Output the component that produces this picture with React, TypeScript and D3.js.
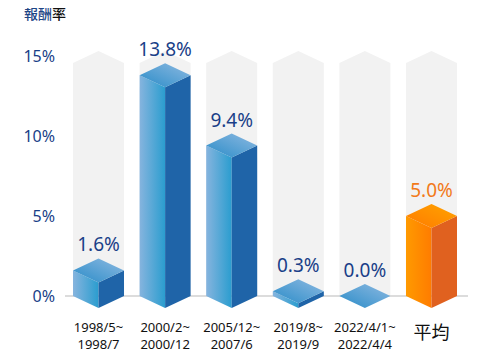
import * as d3 from 'd3';

// chart data
const periods = [
  ['1998/5~', '1998/7'],
  ['2000/2~', '2000/12'],
  ['2005/12~', '2007/6'],
  ['2019/8~', '2019/9'],
  ['2022/4/1~', '2022/4/4'],
  ['平均'],
];
const returns = [1.6, 13.8, 9.4, 0.3, 0.0, 5.0];
const yTicks = [0, 5, 10, 15];

const W = 500;
const H = 360;
const FONT = '"Noto Sans", "Noto Sans CJK TC", sans-serif';
const CJK = '"Noto Sans CJK TC", "Noto Sans", sans-serif';

export default function App() {
  const keys = periods.map((_, i) => String(i));
  const x = d3.scaleBand().domain(keys).range([73, 457]).paddingInner(0.234).paddingOuter(0);
  const y = d3.scaleLinear().domain([0, 15]).range([296, 56]);
  const bw = x.bandwidth();
  const d = 12; // depth of the isometric top

  const isAvg = (i: number) => i === periods.length - 1;

  return (
    <div style={{ margin: -8, width: W, height: H, overflow: 'hidden' }}>
      <svg width={W} height={H} style={{ display: 'block', background: '#fff' }}>
        <defs>
          <linearGradient id="bL" x1="0" x2="1" y1="0" y2="0">
            <stop offset="0" stopColor="#86b4de" />
            <stop offset="1" stopColor="#2a9dcf" />
          </linearGradient>
          <linearGradient id="bT" x1="0" x2="1" y1="1" y2="0">
            <stop offset="0" stopColor="#2a8cc8" />
            <stop offset="1" stopColor="#8db9e1" />
          </linearGradient>
          <linearGradient id="oL" x1="0" x2="1" y1="0" y2="0">
            <stop offset="0" stopColor="#ff9a00" />
            <stop offset="1" stopColor="#ff7c00" />
          </linearGradient>
          <linearGradient id="oT" x1="0" x2="1" y1="1" y2="0">
            <stop offset="0" stopColor="#ff7a00" />
            <stop offset="1" stopColor="#ffa400" />
          </linearGradient>
        </defs>

        <text x={24} y={19} fontFamily={CJK} fontSize={14} fontWeight={500}>
          <tspan fill="#1d4586">報酬</tspan>
          <tspan fill="#111">率</tspan>
        </text>

        {/* background columns */}
        {keys.map(k => {
          const x0 = x(k)!;
          const top = 51;
          return (
            <path
              key={'bg' + k}
              d={`M${x0},${y(0)} V${top + d} L${x0 + bw / 2},${top} L${x0 + bw},${top + d} V${y(0)} Z`}
              fill="#f2f2f2"
            />
          );
        })}

        <line x1={65} x2={468} y1={y(0)} y2={y(0)} stroke="#dcdcdc" strokeWidth={2} />

        {yTicks.map(t => (
          <text key={t} x={55} y={y(t) + 6} textAnchor="end" fontFamily={FONT} fontSize={16} fill="#1a3f88">
            {t}%
          </text>
        ))}

        {returns.map((v, i) => {
          const k = keys[i];
          const x0 = x(k)!;
          const xm = x0 + bw / 2;
          const x1 = x0 + bw;
          const yb = y(0);
          const yt = y(v);
          const avg = isAvg(i);
          return (
            <g key={'bar' + k}>
              <path d={`M${x0},${yt} L${xm},${yt + d} V${yb + d} L${x0},${yb} Z`} fill={avg ? 'url(#oL)' : 'url(#bL)'} />
              <path d={`M${xm},${yt + d} L${x1},${yt} V${yb} L${xm},${yb + d} Z`} fill={avg ? '#e0611f' : '#1f64a8'} />
              <path d={`M${x0},${yt} L${xm},${yt - d} L${x1},${yt} L${xm},${yt + d} Z`} fill={avg ? 'url(#oT)' : 'url(#bT)'} />
              <text x={xm} y={yt - d - 7} textAnchor="middle" fontFamily={FONT} fontSize={19}
                fill={avg ? '#f27a1a' : '#1a3f88'}>
                {v.toFixed(1)}%
              </text>
            </g>
          );
        })}

        {periods.map((lines, i) => {
          const xm = x(keys[i])! + bw / 2;
          if (lines.length === 1) {
            return (
              <text key={'xl' + i} x={xm} y={339} textAnchor="middle" fontFamily={CJK} fontSize={18} fill="#111">
                {lines[0]}
              </text>
            );
          }
          return (
            <text key={'xl' + i} textAnchor="middle" fontFamily={FONT} fontSize={13} fill="#111">
              {lines.map((s, j) => (
                <tspan key={j} x={xm} y={332 + j * 17}>{s}</tspan>
              ))}
            </text>
          );
        })}
      </svg>
    </div>
  );
}
